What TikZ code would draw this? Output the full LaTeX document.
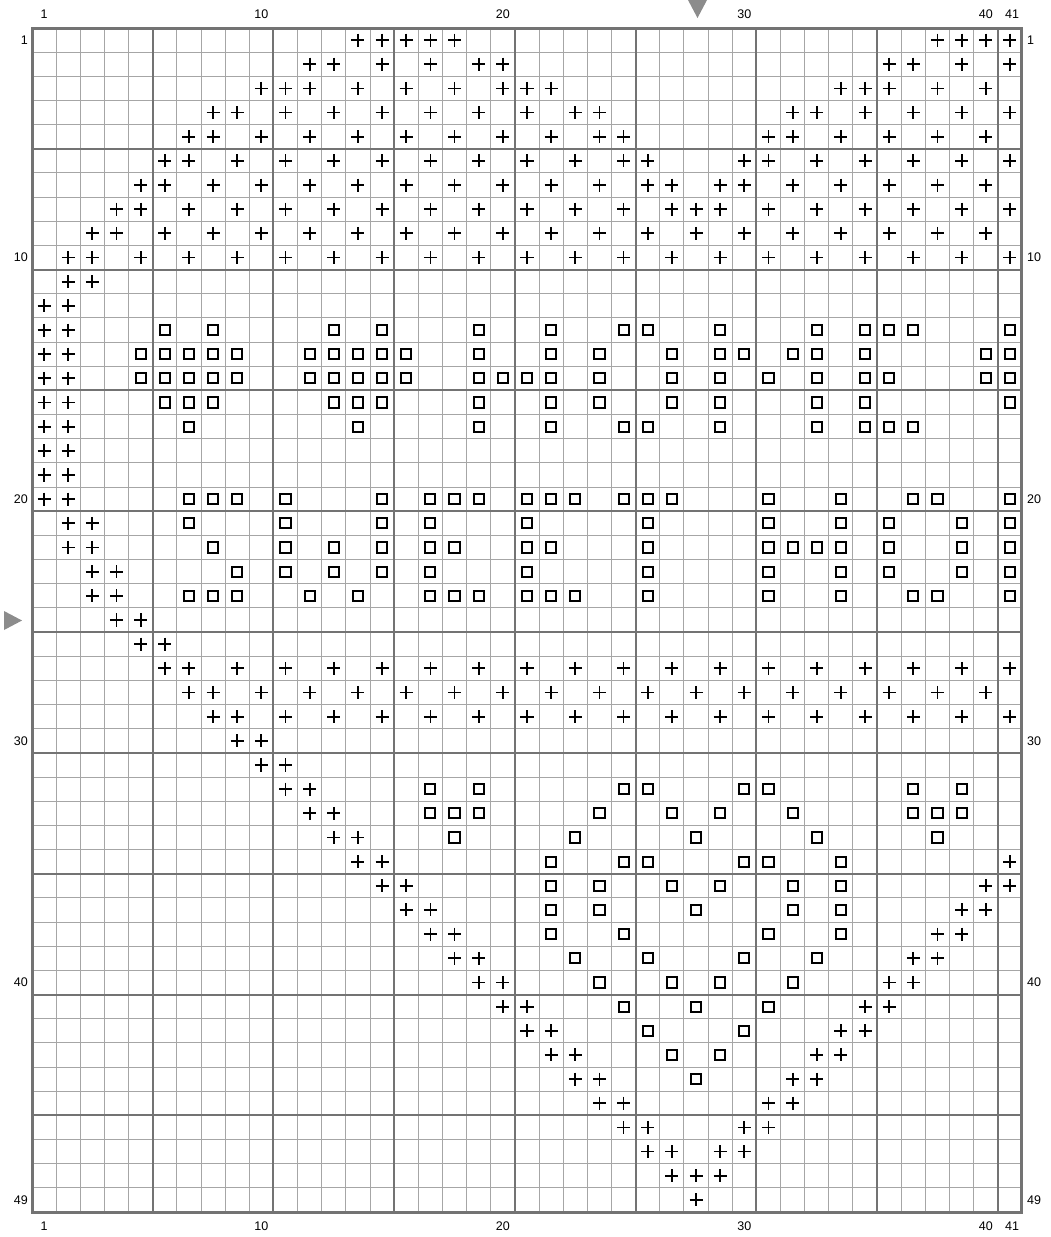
\documentclass[tikz,border=0pt]{standalone}
\usepackage{fontspec}
\setmainfont{Liberation Sans}
\begin{document}
\begin{tikzpicture}[x=1pt,y=-1pt,
  thingrid/.style={draw=black!35,line width=1pt},
  thickgrid/.style={draw=black!55,line width=2pt},
  outerframe/.style={draw=black!55,line width=3pt},
  plussym/.style={draw=black,line width=1.8pt},
  boxsym/.style={draw=black,line width=2pt},
  marker/.style={fill=black!45,draw=none},
  lbl/.style={font=\fontsize{12.5}{14}\selectfont,inner sep=0pt}]
\useasboundingbox (0,0) rectangle (1050,1237);
\fill[white] (0,0) rectangle (1050,1237);
% markers
\fill[marker] (688,0) -- (707,0) -- (697.5,18) -- cycle;
\fill[marker] (4,611) -- (4,630) -- (22,620.5) -- cycle;
% column labels
\foreach \c/\t in {1/1,10/10,20/20,30/30,40/40}{
  \node[lbl] (ct\c) at ({32+(\c-0.5)*24.146},14) {\t};
  \node[lbl] (cb\c) at ({32+(\c-0.5)*24.146},1226) {\t};
}
\node[lbl] (ct41) at (1012,14) {41};
\node[lbl] (cb41) at (1012,1226) {41};
% row labels
\foreach \r in {1,10,20,30,40,49}{
  \node[lbl,anchor=east] (rl\r) at (28,{28+(\r-0.5)*24.163}) {\r};
  \node[lbl,anchor=west] (rr\r) at (1027,{28+(\r-0.5)*24.163}) {\r};
}
\begin{scope}[shift={(32,28)},x=24.146pt,y=-24.163pt]
  \foreach \i in {1,...,40} \draw[thingrid] (\i,0) -- (\i,49);
  \foreach \j in {1,...,48} \draw[thingrid] (0,\j) -- (41,\j);
  \foreach \i in {5,10,...,40} \draw[thickgrid] (\i,0) -- (\i,49);
  \foreach \j in {5,10,...,45} \draw[thickgrid] (0,\j) -- (41,\j);
  \draw[outerframe] (0,0) rectangle (41,49);
  % plus symbols
  \foreach \r/\cols in {
    1/{14,15,16,17,18,38,39,40,41},
    2/{12,13,15,17,19,20,36,37,39,41},
    3/{10,11,12,14,16,18,20,21,22,34,35,36,38,40},
    4/{8,9,11,13,15,17,19,21,23,24,32,33,35,37,39,41},
    5/{7,8,10,12,14,16,18,20,22,24,25,31,32,34,36,38,40},
    6/{6,7,9,11,13,15,17,19,21,23,25,26,30,31,33,35,37,39,41},
    7/{5,6,8,10,12,14,16,18,20,22,24,26,27,29,30,32,34,36,38,40},
    8/{4,5,7,9,11,13,15,17,19,21,23,25,27,28,29,31,33,35,37,39,41},
    9/{3,4,6,8,10,12,14,16,18,20,22,24,26,28,30,32,34,36,38,40},
    10/{2,3,5,7,9,11,13,15,17,19,21,23,25,27,29,31,33,35,37,39,41},
    11/{2,3},12/{1,2},13/{1,2},14/{1,2},15/{1,2},16/{1,2},17/{1,2},
    18/{1,2},19/{1,2},20/{1,2},21/{2,3},22/{2,3},23/{3,4},24/{3,4},
    25/{4,5},26/{5,6},
    27/{6,7,9,11,13,15,17,19,21,23,25,27,29,31,33,35,37,39,41},
    28/{7,8,10,12,14,16,18,20,22,24,26,28,30,32,34,36,38,40},
    29/{8,9,11,13,15,17,19,21,23,25,27,29,31,33,35,37,39,41},
    30/{9,10},31/{10,11},32/{11,12},33/{12,13},34/{13,14},
    35/{14,15,41},36/{15,16,40,41},37/{16,17,39,40},38/{17,18,38,39},
    39/{18,19,37,38},40/{19,20,36,37},41/{20,21,35,36},42/{21,22,34,35},
    43/{22,23,33,34},44/{23,24,32,33},45/{24,25,31,32},46/{25,26,30,31},
    47/{26,27,29,30},48/{27,28,29},49/{28}}{
    \foreach \c in \cols {
      \draw[plussym,shift={({\c-0.5},{\r-0.5})}] (-0.27,0) -- (0.27,0) (0,-0.27) -- (0,0.27);
    }
  }
  % square symbols
  \foreach \r/\cols in {
    13/{6,8,13,15,19,22,25,26,29,33,35,36,37,41},
    14/{5,6,7,8,9,12,13,14,15,16,19,22,24,27,29,30,32,33,35,40,41},
    15/{5,6,7,8,9,12,13,14,15,16,19,20,21,22,24,27,29,31,33,35,36,40,41},
    16/{6,7,8,13,14,15,19,22,24,27,29,33,35,41},
    17/{7,14,19,22,25,26,29,33,35,36,37},
    20/{7,8,9,11,15,17,18,19,21,22,23,25,26,27,31,34,37,38,41},
    21/{7,11,15,17,21,26,31,34,36,39,41},
    22/{8,11,13,15,17,18,21,22,26,31,32,33,34,36,39,41},
    23/{9,11,13,15,17,21,26,31,34,36,39,41},
    24/{7,8,9,12,14,17,18,19,21,22,23,26,31,34,37,38,41},
    32/{17,19,25,26,30,31,37,39},
    33/{17,18,19,24,27,29,32,37,38,39},
    34/{18,23,28,33,38},
    35/{22,25,26,30,31,34},
    36/{22,24,27,29,32,34},
    37/{22,24,28,32,34},
    38/{22,25,31,34},
    39/{23,26,30,33},
    40/{24,27,29,32},
    41/{25,28,31},
    42/{26,30},
    43/{27,29},
    44/{28}}{
    \foreach \c in \cols {
      \draw[boxsym,shift={({\c-0.5},{\r-0.5})}] (-0.21,-0.21) rectangle (0.21,0.21);
    }
  }
\end{scope}
\end{tikzpicture}
\end{document}
